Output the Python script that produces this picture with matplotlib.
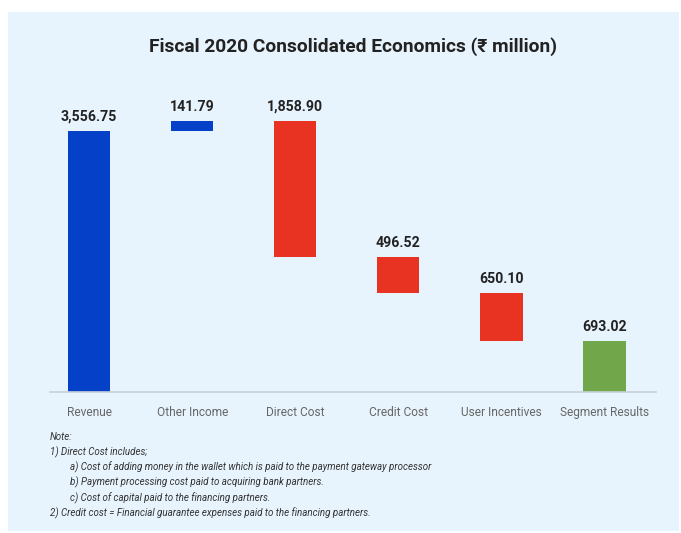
import matplotlib.pyplot as plt
from matplotlib.patches import Rectangle

categories = ['Revenue', 'Other Income', 'Direct Cost', 'Credit Cost', 'User Incentives', 'Segment Results']
values = [3556.75, 141.79, -1858.90, -496.52, -650.10, 693.02]
kinds = ['total', 'up', 'down', 'down', 'down', 'total']
value_labels = ['3,556.75', '141.79', '1,858.90', '496.52', '650.10', '693.02']

notes = [
    ('Note:', 0),
    ('1) Direct Cost includes;', 0),
    ('a) Cost of adding money in the wallet which is paid to the payment gateway processor', 1),
    ('b) Payment processing cost paid to acquiring bank partners.', 1),
    ('c) Cost of capital paid to the financing partners.', 1),
    ('2) Credit cost = Financial guarantee expenses paid to the financing partners.', 0),
]

colors = {'total': '#0441c8', 'up': '#0441c8', 'down': '#e83323'}
seg_color = '#72a64b'
bg = '#e8f4fd'
narrow = ['Roboto', 'DejaVu Sans']

fig = plt.figure(figsize=(6.81, 5.33), dpi=100)
fig.patch.set_facecolor('white')
fig.patches.append(Rectangle((8 / 681, 2 / 533), 671 / 681, 519 / 533,
                             transform=fig.transFigure, facecolor=bg, edgecolor='none', zorder=-10))

ax = fig.add_axes([50 / 681, 141 / 533, 606 / 681, 293.6 / 533])
ax.set_facecolor('none')

# waterfall bottoms
running = 0
for i, (v, k) in enumerate(zip(values, kinds)):
    if i == len(values) - 1:
        bottom, height = 0, v
        c = seg_color
    elif k == 'total':
        bottom, height = 0, v
        running = v
        c = colors[k]
    else:
        if v >= 0:
            bottom, height = running, v
        else:
            bottom, height = running + v, -v
        running += v
        c = colors[k]
    ax.bar(i, height, bottom=bottom, width=0.41, color=c, edgecolor='none')
    ax.annotate(value_labels[i], (i, bottom + height), xytext=(0, 5), textcoords='offset points',
                ha='center', va='bottom', fontsize=10.2, fontweight='bold', color='#222222',
                family=narrow)

ax.set_xlim(-0.38, 5.5)
ax.set_ylim(0, 4000)
ax.set_xticks(range(len(categories)))
ax.set_xticklabels(categories, fontsize=8.6, color='#666666', family=narrow)
ax.tick_params(axis='x', length=0, pad=10)
ax.set_yticks([])
for s in ['top', 'right', 'left']:
    ax.spines[s].set_visible(False)
ax.spines['bottom'].set_color('#c8d0d8')
ax.spines['bottom'].set_linewidth(1.2)

fig.text(353 / 681, 1 - 47 / 533, 'Fiscal 2020 Consolidated Economics (\u20b9 million)',
         ha='center', va='center', fontsize=13.8, fontweight='bold', color='#222222', family=narrow)

y0 = 437
for j, (line, indent) in enumerate(notes):
    fig.text((50 + 20 * indent) / 681, 1 - (y0 + 15.2 * j) / 533, line, ha='left', va='center',
             fontsize=7, style='italic', color='#333333', family=narrow)

fig.savefig('out.png', dpi=100, facecolor=fig.get_facecolor())
